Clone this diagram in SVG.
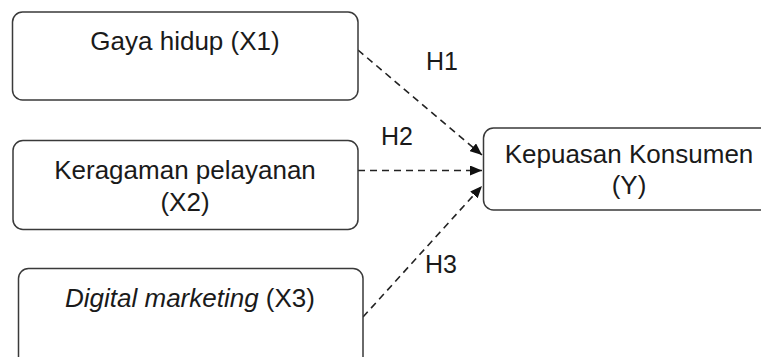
<svg xmlns="http://www.w3.org/2000/svg" width="761" height="357" viewBox="0 0 761 357">
<style>
.box{fill:#fff;stroke:#3a3a3a;stroke-width:1.5}
.t{font-family:"Liberation Sans",Arial,sans-serif;font-size:26px;fill:#1a1a1a;text-anchor:middle}
.h{font-family:"Liberation Sans",Arial,sans-serif;font-size:25px;fill:#1a1a1a;text-anchor:middle}
.c{fill:none;stroke:#222;stroke-width:1.6;stroke-dasharray:7 5}
</style>
<defs>
<marker id="ah" viewBox="0 0 12 10" refX="12" refY="5" markerWidth="12" markerHeight="10" markerUnits="userSpaceOnUse" orient="auto">
<path d="M0,0 L12,5 L0,10 Z" fill="#111"/>
</marker>
</defs>
<rect width="761" height="357" fill="#fff"/>
<g id="connectors">
<line class="c" x1="358" y1="50" x2="482" y2="155" marker-end="url(#ah)"/>
<line class="c" x1="358" y1="170.5" x2="482" y2="170.5" marker-end="url(#ah)"/>
<line class="c" x1="363" y1="317" x2="482" y2="186" marker-end="url(#ah)"/>
<text class="h" x="442" y="70">H1</text>
<text class="h" x="397" y="145">H2</text>
<text class="h" x="441" y="273">H3</text>
</g>
<g id="x1">
<rect class="box" x="12.5" y="12" width="345.5" height="88" rx="10"/>
<text class="t" x="185" y="49.5">Gaya hidup (X1)</text>
</g>
<g id="x2">
<rect class="box" x="13" y="140.5" width="345" height="89" rx="10"/>
<text class="t" x="185" y="178.5">Keragaman pelayanan</text>
<text class="t" x="185" y="210.5">(X2)</text>
</g>
<g id="x3">
<rect class="box" x="18.5" y="268.5" width="344.5" height="100" rx="10"/>
<text class="t" x="190" y="306.5"><tspan font-style="italic">Digital marketing</tspan> (X3)</text>
</g>
<g id="y">
<rect class="box" x="483.5" y="128" width="295" height="82" rx="10"/>
<text class="t" x="629" y="163">Kepuasan Konsumen</text>
<text class="t" x="629" y="193.5">(Y)</text>
</g>
</svg>
